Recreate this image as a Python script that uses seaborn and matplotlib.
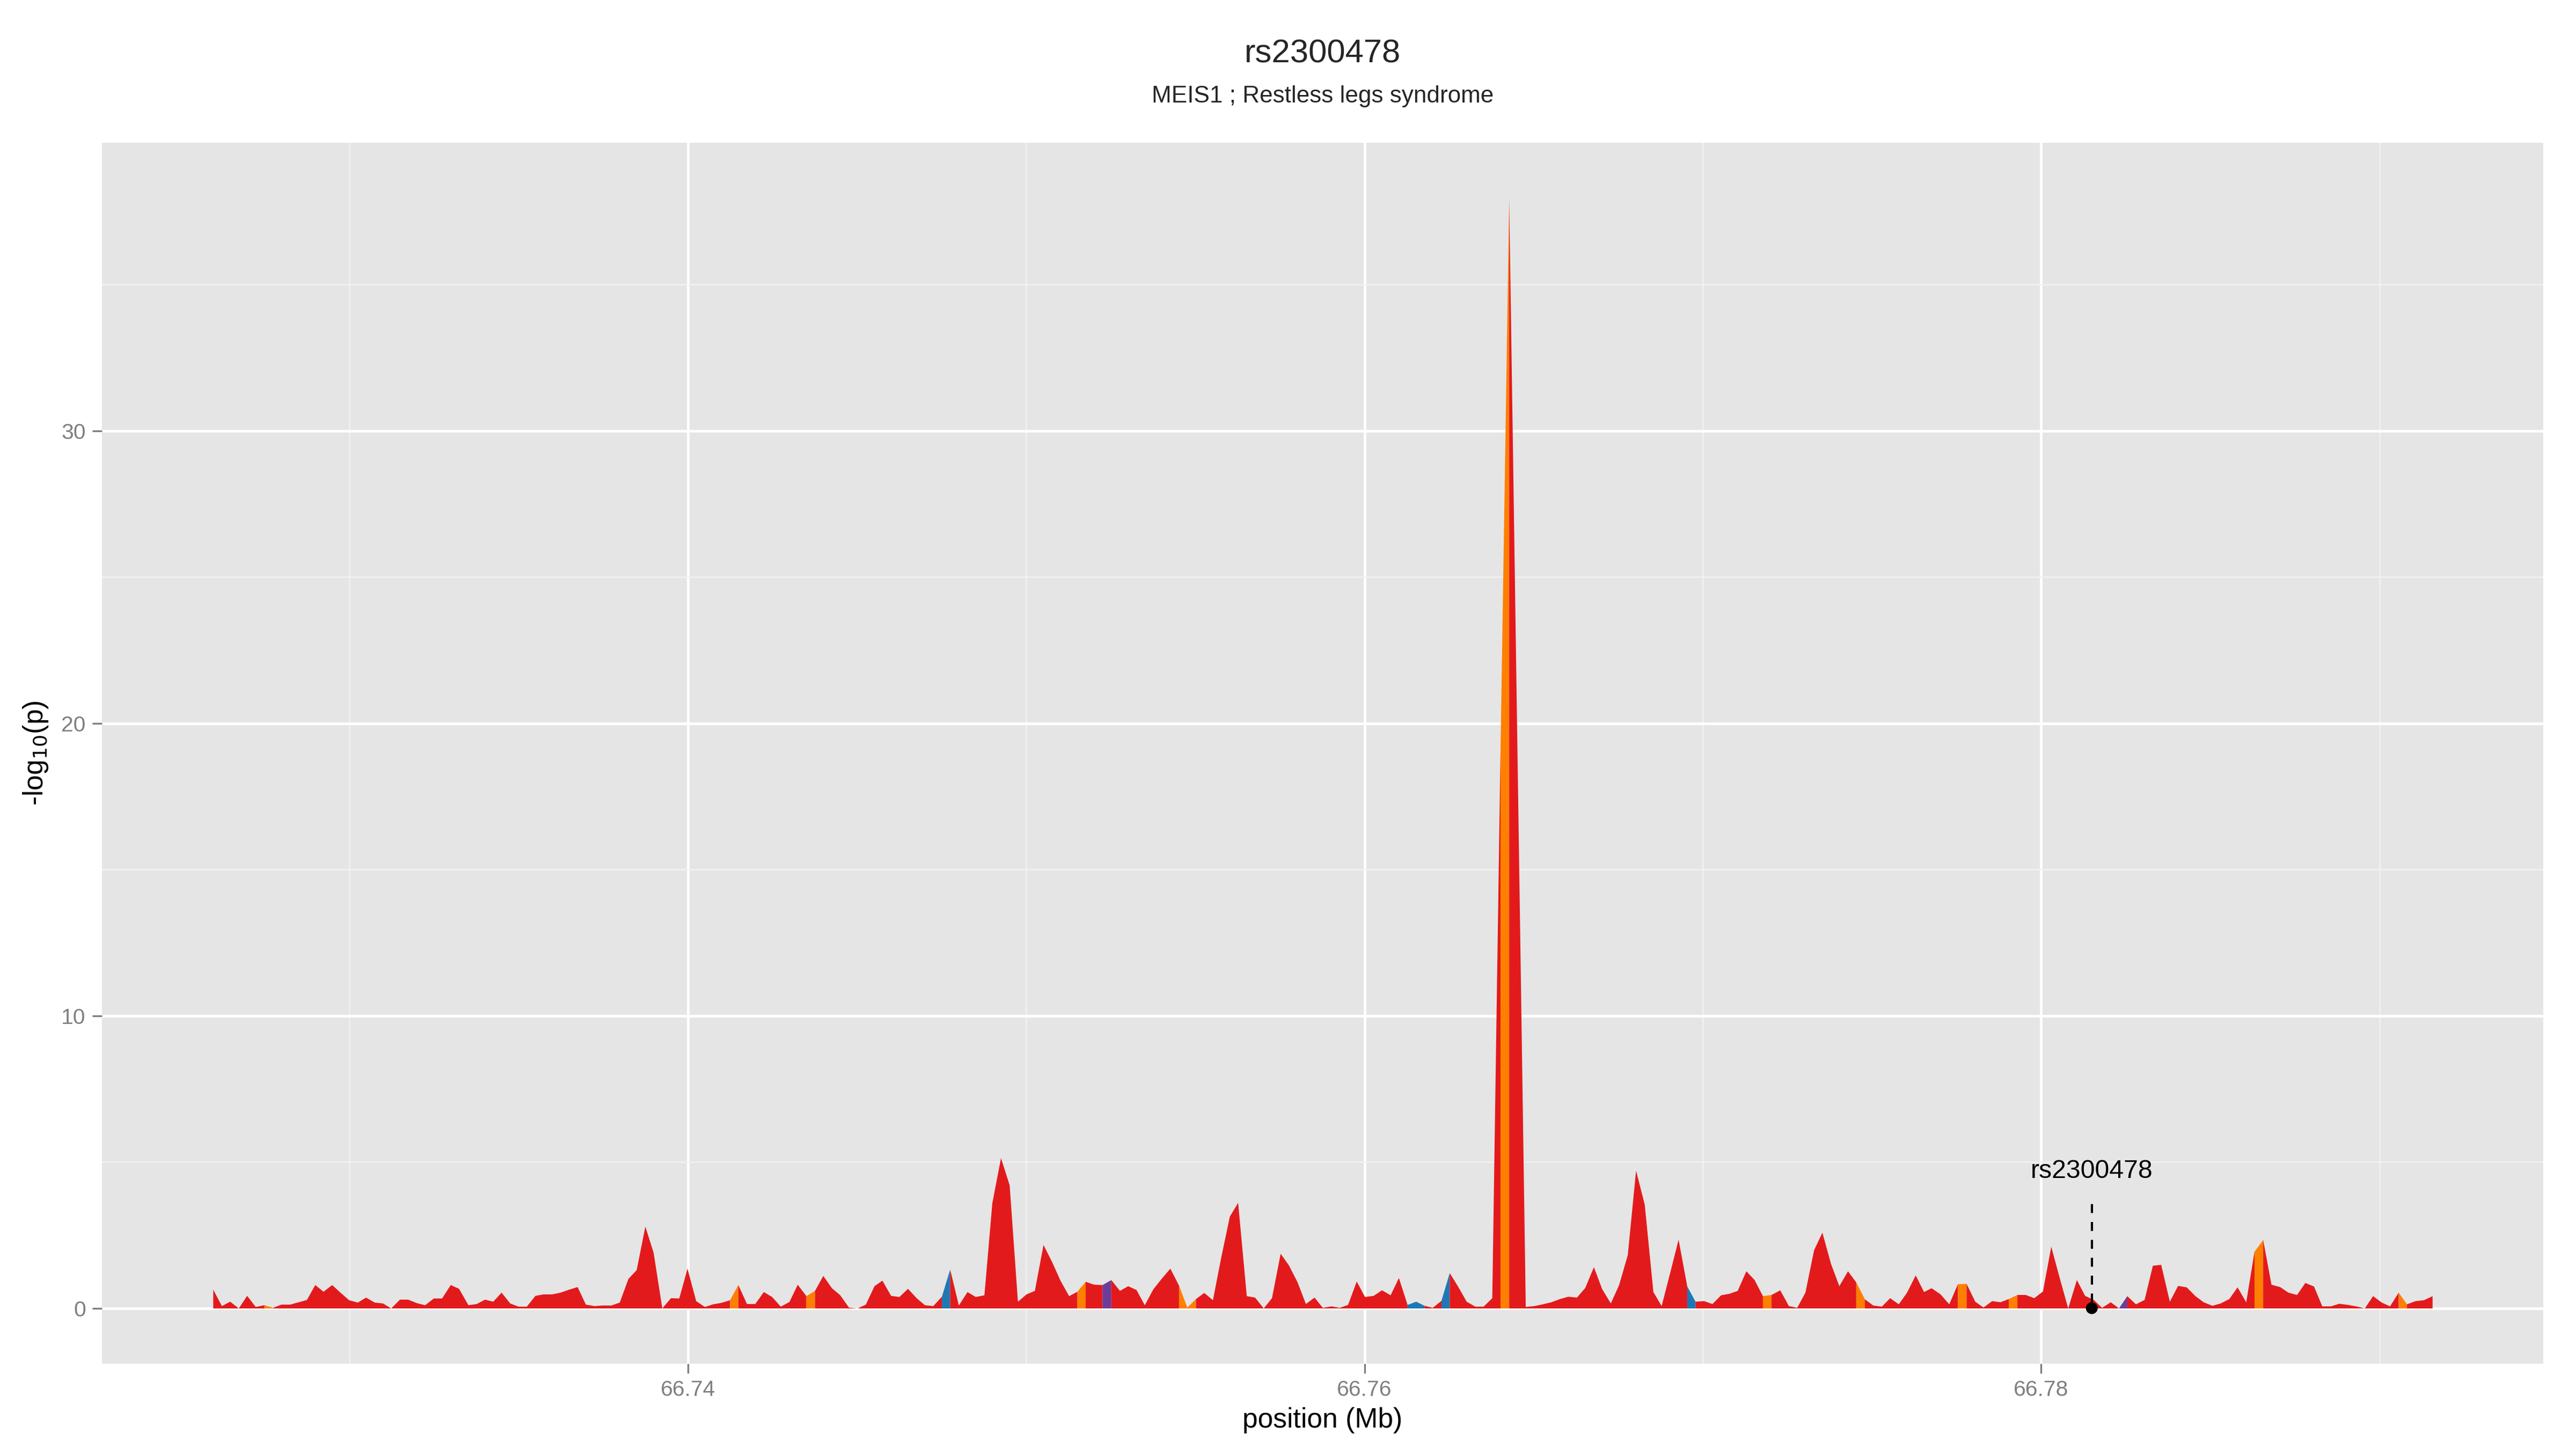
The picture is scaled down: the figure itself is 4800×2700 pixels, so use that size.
import matplotlib
matplotlib.use("Agg")
import matplotlib.pyplot as plt
import seaborn as sns
import numpy as np
import pandas as pd

# SNP positions (bp) and -log10(p)
positions = [
    66725964, 66726220, 66726464, 66726720, 66726965, 66727221, 66727477, 66727733, 66727977, 66728233,
    66728489, 66728734, 66728979, 66729224, 66729479, 66729724, 66729980, 66730236, 66730481, 66730737,
    66730981, 66731226, 66731482, 66731727, 66731983, 66732228, 66732483, 66732728, 66732984, 66733229,
    66733507, 66733752, 66733997, 66734241, 66734486, 66734742, 66734987, 66735232, 66735487, 66735732,
    66735977, 66736233, 66736478, 66736734, 66736978, 66737234, 66737479, 66737735, 66737980, 66738236,
    66738480, 66738736, 66738981, 66739237, 66739493, 66739738, 66739982, 66740238, 66740494, 66740739,
    66740984, 66741240, 66741484, 66741740, 66741985,
    66742238, 66742483, 66742739, 66742995, 66743240, 66743496, 66743751, 66743996, 66744252, 66744497,
    66744753, 66745009, 66745253, 66745509, 66745743, 66745999, 66746244, 66746500, 66746755, 66747000,
    66747245, 66747501, 66747746, 66748002, 66748258, 66748502, 66748758, 66748992, 66749248, 66749504,
    66749748, 66750004, 66750249, 66750505, 66750761, 66751006, 66751262, 66751506, 66751751, 66752007,
    66752252, 66752508, 66752764, 66753008, 66753253, 66753498, 66753754, 66754010, 66754254, 66754510,
    66754755, 66755011, 66755256, 66755512, 66755756, 66756012, 66756257, 66756513, 66756758, 66757014,
    66757258, 66757514, 66757759, 66758015, 66758260, 66758516, 66758760, 66759016, 66759261,
    66759507, 66759763, 66760008, 66760264, 66760509, 66760765, 66761009, 66761265, 66761521, 66761766,
    66762011, 66762267, 66762511, 66762767, 66763012, 66763268, 66763513, 66763769, 66764013, 66764269,
    66764514, 66764759, 66765015, 66765259, 66765515, 66765771, 66766016, 66766272, 66766517, 66766773,
    66767017, 66767273, 66767518, 66767774, 66768019, 66768275, 66768531, 66768775, 66769031, 66769276,
    66769532, 66769777, 66770033, 66770277, 66770533, 66770778, 66771023, 66771279, 66771523, 66771768,
    66772024, 66772280, 66772536, 66772781, 66773025, 66773281, 66773526, 66773782, 66774027, 66774283,
    66774527, 66774783, 66775028, 66775284, 66775529, 66775785, 66776029, 66776285, 66776530,
    66776753, 66777020, 66777276, 66777532, 66777788, 66778044, 66778288, 66778544, 66778789, 66779034,
    66779290, 66779535, 66779790, 66780046, 66780291, 66780536, 66780792, 66781048, 66781292, 66781548,
    66781793, 66782049, 66782294, 66782539, 66782794, 66783050, 66783295, 66783540, 66783796, 66784041,
    66784296, 66784552, 66784797, 66785053, 66785298, 66785554, 66785798, 66786054, 66786299, 66786555,
    66786800, 66787056, 66787300, 66787556, 66787801, 66788057, 66788302, 66788558, 66788802, 66789058,
    66789303, 66789559, 66789804, 66790060, 66790305, 66790560, 66790805, 66791061, 66791306, 66791562,
]

logp = [
    0.64, 0.08, 0.23, 0.00, 0.43, 0.05, 0.11, 0.02, 0.13, 0.13,
    0.21, 0.29, 0.80, 0.57, 0.80, 0.54, 0.28, 0.20, 0.37, 0.20,
    0.17, 0.00, 0.30, 0.30, 0.18, 0.11, 0.34, 0.34, 0.80, 0.67,
    0.11, 0.15, 0.30, 0.23, 0.54, 0.17, 0.06, 0.06, 0.43, 0.48,
    0.48, 0.54, 0.64, 0.73, 0.13, 0.08, 0.10, 0.10, 0.20, 1.01,
    1.31, 2.80, 1.90, 0.00, 0.35, 0.34, 1.36, 0.25, 0.05, 0.14,
    0.19, 0.28, 0.80, 0.15, 0.15,
    0.56, 0.39, 0.06, 0.22, 0.81, 0.42, 0.60, 1.11, 0.69, 0.45,
    0.03, 0.00, 0.13, 0.76, 0.95, 0.43, 0.39, 0.67, 0.35, 0.11,
    0.08, 0.40, 1.33, 0.10, 0.56, 0.39, 0.45, 3.60, 5.14, 4.21,
    0.23, 0.48, 0.60, 2.17, 1.58, 0.95, 0.42, 0.57, 0.91, 0.81,
    0.80, 0.97, 0.60, 0.76, 0.63, 0.11, 0.66, 1.03, 1.36, 0.78,
    0.03, 0.32, 0.53, 0.28, 1.73, 3.14, 3.61, 0.42, 0.37, 0.00,
    0.35, 1.87, 1.47, 0.89, 0.15, 0.37, 0.02, 0.07, 0.02,
    0.12, 0.92, 0.39, 0.43, 0.62, 0.45, 1.04, 0.12, 0.23, 0.09,
    0.02, 0.26, 1.21, 0.73, 0.23, 0.06, 0.06, 0.35, 19.10, 37.95,
    19.00, 0.05, 0.08, 0.14, 0.21, 0.32, 0.40, 0.37, 0.70, 1.41,
    0.66, 0.17, 0.80, 1.82, 4.71, 3.55, 0.56, 0.08, 1.23, 2.35,
    0.75, 0.23, 0.25, 0.15, 0.45, 0.50, 0.60, 1.27, 0.97, 0.42,
    0.46, 0.62, 0.08, 0.02, 0.54, 1.99, 2.59, 1.52, 0.76, 1.27,
    0.89, 0.31, 0.10, 0.06, 0.35, 0.14, 0.54, 1.13, 0.56,
    0.69, 0.48, 0.14, 0.83, 0.84, 0.23, 0.03, 0.25, 0.21, 0.32,
    0.46, 0.46, 0.35, 0.58, 2.11, 1.06, 0.00, 0.97, 0.43, 0.29,
    0.02, 0.21, 0.00, 0.42, 0.14, 0.29, 1.46, 1.49, 0.23, 0.77,
    0.72, 0.42, 0.21, 0.09, 0.17, 0.32, 0.72, 0.21, 1.94, 2.34,
    0.81, 0.73, 0.54, 0.46, 0.87, 0.75, 0.07, 0.07, 0.16, 0.12,
    0.07, 0.00, 0.42, 0.20, 0.07, 0.54, 0.14, 0.25, 0.28, 0.42,
]

# SNPs whose interval is drawn in a non-default LD colour
orange_snps = [66727477, 66741240, 66743496, 66751506, 66754510, 66754755,
               66764013, 66771768, 66774527, 66777532, 66779034, 66786299, 66790560]
blue_snps = [66747501, 66761265, 66761521, 66762267, 66769532]
purple_snps = [66752252, 66782294]

lead_snp = "rs2300478"
lead_pos = 66781497
title = "rs2300478"
subtitle = "MEIS1 ; Restless legs syndrome"

palette = {"red": "#E31A1C", "orange": "#FF7F00", "blue": "#1F78B4", "purple": "#6A3D9A"}

df = pd.DataFrame({"pos": np.array(positions) / 1e6, "logp": logp})
df["ld"] = "red"
df.loc[df["pos"].isin(np.array(orange_snps) / 1e6), "ld"] = "orange"
df.loc[df["pos"].isin(np.array(blue_snps) / 1e6), "ld"] = "blue"
df.loc[df["pos"].isin(np.array(purple_snps) / 1e6), "ld"] = "purple"

sns.set_theme(style="darkgrid", rc={
    "axes.facecolor": "#E5E5E5",
    "grid.color": "white",
    "axes.edgecolor": "#E5E5E5",
})
plt.rcParams["font.family"] = ["Liberation Sans", "DejaVu Sans"]

fig = plt.figure(figsize=(16, 9), dpi=300)
ax = fig.add_axes([0.0396, 0.0589, 0.9477, 0.8426])

# area, split in runs of equal colour
x = df["pos"].to_numpy()
y = df["logp"].to_numpy()
cols = df["ld"].to_numpy()
start = 0
for i in range(1, len(x)):
    if i == len(x) - 1 or cols[i] != cols[start]:
        ax.fill_between(x[start:i + 1], y[start:i + 1], 0, color=palette[cols[start]],
                        lw=0, zorder=2)
        start = i

# lead SNP marker
lead_x = lead_pos / 1e6
ax.plot([lead_x, lead_x], [0.2, 3.77], color="black", lw=1.0, dashes=(4, 4), zorder=3)
sns.scatterplot(x=[lead_x], y=[0], color="black", s=28, edgecolor="none", ax=ax, zorder=4)
ax.text(lead_x, 4.68, lead_snp, ha="center", va="center", fontsize=11.6, color="black", zorder=4)

xr = x.max() - x.min()
ax.set_xlim(x.min() - 0.05 * xr, x.max() + 0.05 * xr)
ax.set_ylim(-0.05 * y.max(), 1.05 * y.max())

ax.set_xticks([66.74, 66.76, 66.78])
ax.set_xticklabels(["66.74", "66.76", "66.78"])
ax.set_xticks([66.73, 66.75, 66.77, 66.79], minor=True)
ax.set_yticks([0, 10, 20, 30])
ax.set_yticks([5, 15, 25, 35], minor=True)
ax.grid(which="major", color="white", lw=1.2, zorder=0)
ax.grid(which="minor", color="#F2F2F2", lw=0.6, zorder=0)
ax.set_axisbelow(True)
for s in ax.spines.values():
    s.set_visible(False)

ax.tick_params(axis="both", which="major", length=4.3, width=0.8, color="#7F7F7F",
               labelcolor="#7F7F7F", labelsize=9.8, pad=3, bottom=True, left=True)
ax.tick_params(axis="both", which="minor", length=0)

ax.set_xlabel("position (Mb)", fontsize=12.4, color="black", labelpad=3)
ax.set_ylabel("-log$_{10}$(p)", fontsize=12.4, color="black", labelpad=5)

fig.text(0.5135, 1 - 101 / 2700, title, ha="center", va="center", fontsize=14.8)
fig.text(0.5135, 1 - 180 / 2700, subtitle, ha="center", va="center", fontsize=10.6)

fig.savefig("out.png", dpi=300, facecolor="white")
